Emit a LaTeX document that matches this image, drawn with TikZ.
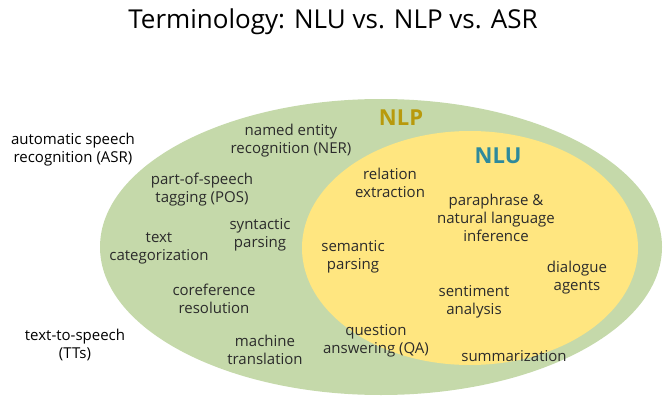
\documentclass[tikz,border=0pt]{standalone}
\usepackage{fontspec}
\setmainfont{Open Sans}
\usepackage{xcolor}
\usepackage{tikz}
\usetikzlibrary{positioning}
\definecolor{nlpfill}{HTML}{C5D9AA}
\definecolor{nlufill}{HTML}{FFE680}
\definecolor{nlptext}{HTML}{B89A0C}
\definecolor{nlutext}{HTML}{2E8A9C}
\definecolor{termtext}{HTML}{2B2B2B}

\begin{document}
\begin{tikzpicture}[x=1pt, y=-1pt,
  term/.style={align=center, inner sep=0pt, text=termtext, font=\fontsize{15}{18}\selectfont},
  outer/.style={align=center, inner sep=0pt, text=black, font=\fontsize{15}{18}\selectfont},
  setlabel/.style={inner sep=0pt, font=\fontsize{22}{26}\selectfont\bfseries}
]
  \useasboundingbox (0,0) rectangle (667,404);

  % sets
  \fill[nlpfill] (381,247) ellipse [x radius=281, y radius=148];
  \fill[nlufill] (470,248) ellipse [x radius=168, y radius=117];

  % title
  \node[inner sep=0pt, font=\fontsize{26}{30}\selectfont] (title) at (333,22) {Terminology: NLU vs. NLP vs. ASR};

  \node[setlabel, text=nlptext] (nlp) at (401,118) {NLP};
  \node[setlabel, text=nlutext] (nlu) at (498,156) {NLU};

  % outside both sets
  \node[outer] (asr) at (73,150) {automatic speech\\recognition (ASR)};
  \node[outer] (tts) at (75,345) {text-to-speech\\(TTs)};

  % NLP only
  \node[term] (ner) at (291,141) {named entity\\recognition (NER)};
  \node[term] (pos) at (202,190) {part-of-speech\\tagging (POS)};
  \node[term] (syntax) at (260,235) {syntactic\\parsing};
  \node[term] (textcat) at (159,248) {text\\categorization};
  \node[term] (coref) at (214,299) {coreference\\resolution};
  \node[term] (mt) at (265,350) {machine\\translation};

  % NLU
  \node[term] (relext) at (390,183) {relation\\extraction};
  \node[term] (nli) at (496,218) {paraphrase \&\\natural language\\inference};
  \node[term] (semparse) at (353,257) {semantic\\parsing};
  \node[term] (dialogue) at (577,278) {dialogue\\agents};
  \node[term] (sentiment) at (474,302) {sentiment\\analysis};
  \node[term] (qa) at (376,341) {question\\answering (QA)};
  \node[term] (summ) at (514,356) {summarization};
\end{tikzpicture}
\end{document}
